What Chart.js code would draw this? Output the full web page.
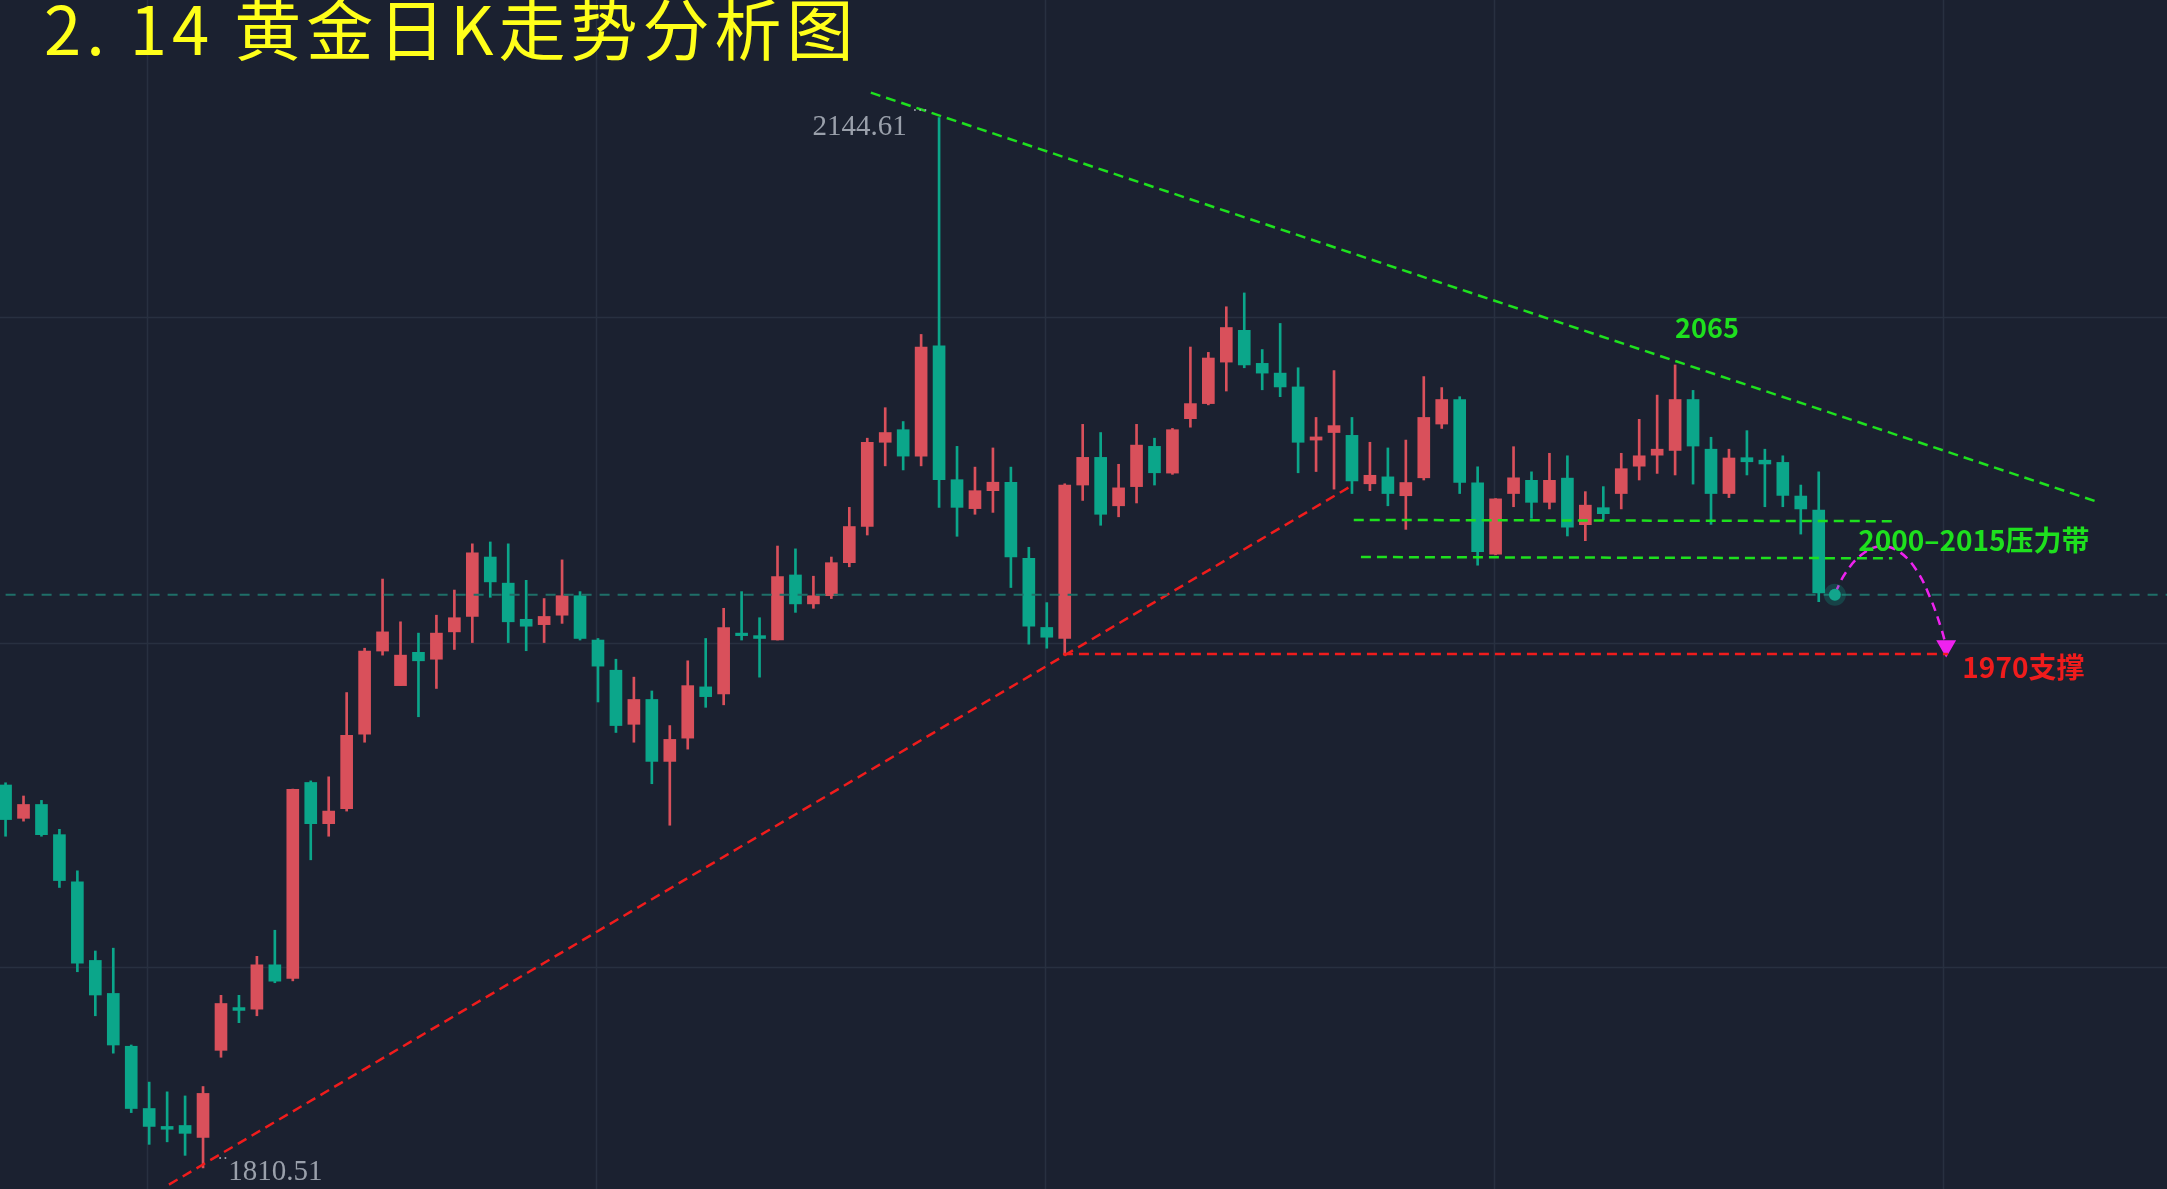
<!DOCTYPE html>
<html>
<head>
<meta charset="utf-8">
<script src="https://cdn.jsdelivr.net/npm/chart.js@4"></script>
<style>
  html, body { margin: 0; padding: 0; background: #1b2130; overflow: hidden; }
  canvas { display: block; }
</style>
</head>
<body>
<canvas id="c" width="2167" height="1189" style="width:2167px;height:1189px"></canvas>
<script>
const opens = [1932.3,1921.7,1926.1,1916.5,1901.5,1876.5,1866,1849.2,1829.4,1823.7,
  1824,1820.2,1847.9,1861.5,1861,1875.1,1870.8,1933.1,1920,1924.8,
  1948.5,1974.9,1963.9,1974.5,1972.3,1981,1985.9,2004.8,1996.5,1985,
  1983.3,1986.3,1992.5,1978.4,1968.8,1951.6,1959.5,1939.8,1947.2,1963.5,
  1961.3,1980.6,1979.8,1978.4,1999.1,1989.9,1992.5,2003,2014.5,2041.3,
  2045.3,2036.9,2072,2029.4,2020.2,2025.9,2028.6,2004.4,1982.4,1978.9,
  2027.7,2036.5,2021.1,2027.2,2040,2031.5,2048.8,2053.6,2066.8,2076.9,
  2066.4,2063.3,2058.9,2042,2044.4,2043.5,2028.1,2030.3,2024.3,2030.0,
  2047.1,2054.9,2028.4,2005.7,2025.0,2029.2,2022.2,2029.9,2015.1,2020.5,
  2025.0,2033.7,2037.2,2038.7,2054.9,2039.1,2025.0,2036.4,2035.6,2034.9,
  2024.2,2019.7];
const closes = [1921.3,1926.1,1916.5,1901.9,1875.6,1865.5,1849.6,1829.4,1823.7,1822.8,
  1821.5,1834.2,1862.8,1860.6,1875.1,1869.9,1930.9,1920,1924,1948.1,
  1974.9,1981,1973.6,1971.8,1980.6,1985.5,2006.1,1996.9,1984.2,1982.8,
  1985.9,1992.5,1978.9,1970.1,1951.2,1959.5,1939.8,1946.8,1963.9,1960.4,
  1982.4,1979.8,1978.9,1998.6,1989.9,1992.5,2003,2014.5,2041.3,2044.4,
  2036.9,2071.6,2029.4,2020.6,2025.9,2028.6,2004.8,1982.8,1979.3,2027.7,
  2036.5,2018.4,2026.8,2040.4,2031.6,2045.3,2053.6,2068.1,2077.8,2065.9,
  2063.3,2058.9,2041.3,2043,2046.6,2029,2030.8,2025,2028.5,2049.2,
  2054.9,2028.5,2006.5,2023.3,2030.0,2022.2,2029.2,2014.3,2021.3,2018.6,
  2032.9,2037.0,2039.1,2054.9,2040.1,2025.0,2036.3,2035.1,2034.4,2024.4,
  2020.1,1993.4];
const highs = [1933,1928.8,1927.4,1918.2,1905,1879.5,1880.4,1849.6,1837.8,1834.7,
  1833.4,1836.4,1865.4,1865.4,1877.8,1886.1,1931,1933.6,1934.9,1961.7,
  1975.8,1997.8,1984.2,1980.6,1986.3,1994.3,2009,2009.6,2009,1997.4,
  1991.6,2003.9,1993.8,1978.9,1972.3,1966.6,1962.2,1951.2,1971.8,1978.9,
  1988.5,1993.8,1985.5,2008.3,2007.4,1998.7,2004.8,2020.6,2042.6,2052.3,
  2047.9,2075.6,2144.61,2040,2033.4,2039.5,2033.4,2007.9,1990.3,2028.1,
  2047,2044.4,2034.3,2047,2042.6,2045.7,2071.6,2069.9,2084.4,2088.8,
  2070.8,2079.1,2065,2049.2,2064.1,2049.2,2041.3,2039.5,2042,2062.2,
  2058.7,2055.8,2033.5,2023.4,2039.9,2031.9,2037.8,2037.0,2025.6,2027.2,
  2037.8,2048.6,2056.3,2065.9,2057.8,2042.9,2039.1,2045.0,2039.1,2037.0,
  2027.7,2031.9];
const lows = [1916,1920.8,1916,1899.7,1872.9,1858.9,1847,1828.1,1818,1818.8,
  1814.5,1810.51,1845.7,1856.7,1858.9,1869.4,1870,1908.5,1916,1924,
  1945.9,1973.6,1963.9,1954,1963,1975.4,1977.6,1992,1977.6,1975,
  1977.6,1983.7,1978.4,1958.7,1949,1945.9,1932.7,1919.5,1943.7,1957,
  1957.8,1978.4,1966.6,1978.4,1987.2,1988.5,1991.6,2001.7,2011.8,2033.8,
  2032.5,2033.8,2020.6,2011.4,2018.4,2019,1995.1,1977.1,1975.8,1973.6,
  2022.8,2014.9,2017.6,2022,2027.7,2031.1,2046.1,2053.2,2057.6,2065,
  2058,2055.8,2031.6,2032,2026.4,2025,2025.9,2021.1,2013.6,2029.3,
  2045.7,2025.0,2002.2,2005.5,2020.8,2017.1,2020.1,2011.5,2010.0,2016.6,
  2020.1,2029.3,2031.4,2030.9,2028.0,2015.2,2023.7,2030.9,2020.8,2020.8,
  2012.1,1990.6];

// analysis overlays (index, price)
const resistTrend = [[48.2, 2152.5], [116.5, 2022.4]];
const supportTrend = [[9.1, 1805.2], [74.9, 2027.2]];
const supportLevel = [[58.9, 1974.0], [108.2, 1974.0]];
const bandTop = [[75.1, 2016.6], [105.2, 2016.2]];
const bandBottom = [[75.5, 2004.8], [105.1, 2004.4]];
const lastPrice = 1992.8;
const arcPath = [[101.9, 1993.2], [102.5, 1999.8], [103.4, 2005.6], [104.4, 2008.2], [105.4, 2006.8], [106.4, 2001.0], [107.2, 1992.0], [107.8, 1982.5], [108.1, 1976.5]];
const gridPrices = [1874.3, 1977.6, 2081.3];
const gridIdx = [7.9, 32.9, 57.9, 82.9, 107.9];

const UP = '#d9505b', DOWN = '#0ba68a';
const idx = opens.map((_, i) => i);
const colr = idx.map(i => closes[i] >= opens[i] ? UP : DOWN);
const pts = a => a.map(p => ({ x: p[0], y: p[1] }));

function lineDs(data, color, width, dash) {
    return { type: 'line', data: pts(data), borderColor: color, borderWidth: width, borderDash: dash,
        pointRadius: 0, fill: false, order: 0 };
}

const gridPlugin = {
    id: 'grid',
    beforeDatasetsDraw(chart) {
        const { ctx, scales: { x, y }, width, height } = chart;
        ctx.save();
        ctx.strokeStyle = '#283040';
        ctx.lineWidth = 1.5;
        ctx.beginPath();
        gridIdx.forEach(v => { const p = Math.round(x.getPixelForValue(v)) + 0.5; ctx.moveTo(p, 0); ctx.lineTo(p, height); });
        gridPrices.forEach(v => { const p = Math.round(y.getPixelForValue(v)) + 0.5; ctx.moveTo(0, p); ctx.lineTo(width, p); });
        ctx.stroke();
        ctx.restore();
    }
};

const textPlugin = {
    id: 'texts',
    afterDatasetsDraw(chart) {
        const { ctx, scales: { x, y } } = chart;
        ctx.save();
        ctx.fillStyle = '#ffff1a';
        ctx.font = '67px "Noto Sans CJK SC"';
        ctx.letterSpacing = '5px';
        ctx.textBaseline = 'top';
        ctx.fillText('2. 14 黄金日K走势分析图', 44, -4);
        ctx.letterSpacing = '0px';
        ctx.textBaseline = 'middle';
        ctx.font = '29px "Liberation Serif"';
        ctx.fillStyle = '#9aa0ab';
        ctx.textAlign = 'right';
        ctx.fillText('2144.61', x.getPixelForValue(50.2), y.getPixelForValue(2141.5));
        ctx.textAlign = 'left';
        ctx.fillText('1810.51', x.getPixelForValue(12.4), y.getPixelForValue(1809));
        ctx.font = '16px "Liberation Serif"';
        ctx.fillText('···', x.getPixelForValue(50.5), y.getPixelForValue(2146.5));
        ctx.fillText('··', x.getPixelForValue(11.8), y.getPixelForValue(1813));
        ctx.font = 'bold 27px "Noto Sans CJK SC"';
        ctx.fillStyle = '#1ee01e';
        ctx.fillText('2065', x.getPixelForValue(93.0), y.getPixelForValue(2077.8));
        ctx.font = 'bold 28px "Noto Sans CJK SC"';
        ctx.fillText('2000–2015压力带', x.getPixelForValue(103.2), y.getPixelForValue(2010.1));
        ctx.fillStyle = '#f01c1c';
        ctx.fillText('1970支撑', x.getPixelForValue(109.0), y.getPixelForValue(1969.7));
        // last price dot
        const px = x.getPixelForValue(101.9), py = y.getPixelForValue(lastPrice);
        ctx.fillStyle = 'rgba(11,166,138,0.25)';
        ctx.beginPath(); ctx.arc(px, py, 11, 0, Math.PI * 2); ctx.fill();
        ctx.fillStyle = '#12a58c';
        ctx.beginPath(); ctx.arc(px, py, 6, 0, Math.PI * 2); ctx.fill();
        ctx.restore();
    }
};

new Chart(document.getElementById('c'), {
    data: {
        datasets: [
            lineDs([[-1, lastPrice], [121, lastPrice]], '#1f6f68', 2, [10, 8]),
            lineDs(resistTrend, '#1ee01e', 2.5, [10, 6]),
            lineDs(supportTrend, '#f01c1c', 2.5, [10, 6]),
            lineDs(supportLevel, '#f01c1c', 2.5, [10, 6]),
            lineDs(bandTop, '#1ee01e', 2.5, [10, 6]),
            lineDs(bandBottom, '#1ee01e', 2.5, [10, 6]),
            Object.assign(lineDs(arcPath, '#ee22ee', 2.5, [9, 6]), {
                tension: 0.4,
                pointRadius: arcPath.map((_, i) => i === arcPath.length - 1 ? 9 : 0),
                pointStyle: 'triangle', pointRotation: 180,
                pointBackgroundColor: '#ee22ee', pointBorderColor: '#ee22ee'
            }),
            { type: 'bar', data: idx.map(i => ({ x: i, y: [lows[i], highs[i]] })), backgroundColor: colr,
                barThickness: 2, grouped: false, order: 2 },
            { type: 'bar', data: idx.map(i => ({ x: i, y: [opens[i], closes[i]] })), backgroundColor: colr,
                barThickness: 12, minBarLength: 2, grouped: false, order: 1 }
        ]
    },
    options: {
        responsive: false, animation: false, devicePixelRatio: 1,
        layout: { padding: 0, autoPadding: false },
        plugins: { legend: { display: false }, tooltip: { enabled: false } },
        scales: {
            x: { type: 'linear', min: -0.31, max: 120.4, offset: false, display: false },
            y: { min: 1803.8, max: 2181.97, display: false }
        }
    },
    plugins: [gridPlugin, textPlugin]
});
</script>
</body>
</html>
